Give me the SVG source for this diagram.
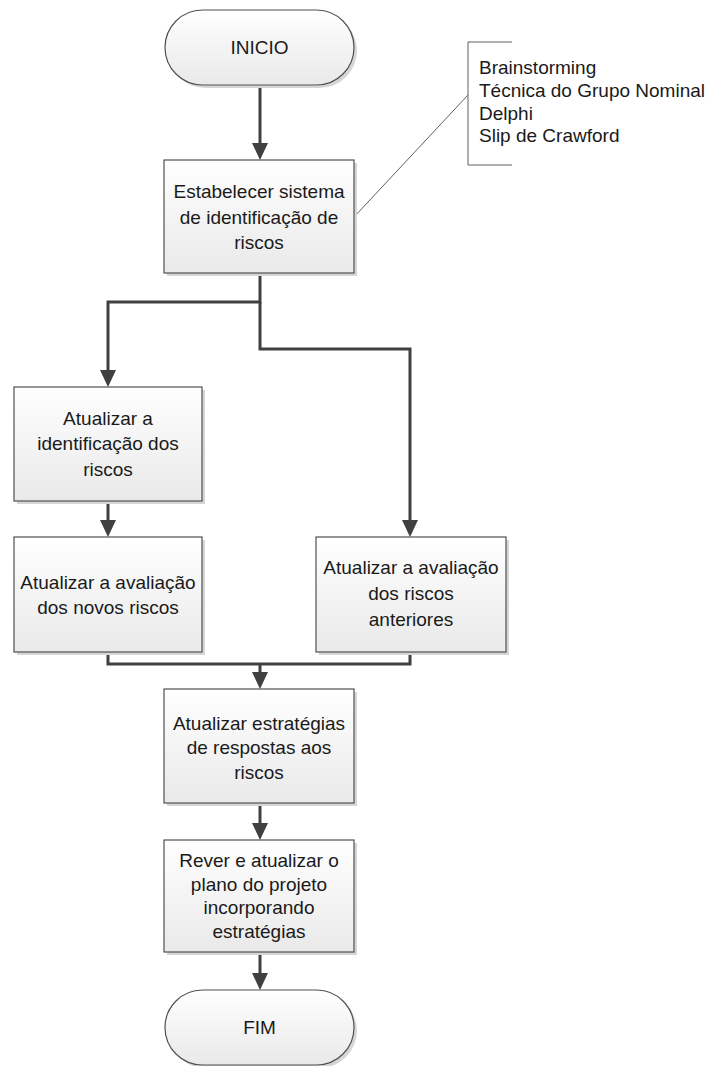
<svg xmlns="http://www.w3.org/2000/svg" width="711" height="1066" viewBox="0 0 711 1066">
  <style>
    .box { fill: url(#g); stroke: #505050; stroke-width: 1.2; }
    .shadow { fill: #d6d6d6; }
    .t { font-family: "Liberation Sans", Arial, sans-serif; font-size: 19px; fill: #1a1a1a; text-anchor: middle; }
    .ann { font-family: "Liberation Sans", Arial, sans-serif; font-size: 19px; fill: #1a1a1a; }
    .conn { fill: none; stroke: #404040; stroke-width: 3; }
    .thin { fill: none; stroke: #606060; stroke-width: 1; }
  </style>
  <defs>
    <linearGradient id="g" x1="0" y1="0" x2="0" y2="1">
      <stop offset="0" stop-color="#ffffff"/>
      <stop offset="1" stop-color="#e9e9e9"/>
    </linearGradient>
    <marker id="arr" viewBox="0 0 17 16" refX="7" refY="8" markerWidth="17" markerHeight="16" markerUnits="userSpaceOnUse" orient="auto">
      <path d="M0,0 L17,8 L0,16 z" fill="#404040"/>
    </marker>
  </defs>

  <g id="connectors">
    <path class="conn" d="M260,85 L260,150" marker-end="url(#arr)"/>
    <path class="conn" d="M260,273 L260,302 L108,302 L108,377" marker-end="url(#arr)"/>
    <path class="conn" d="M260,302 L260,349 L410,349 L410,527" marker-end="url(#arr)"/>
    <path class="conn" d="M108,501 L108,527" marker-end="url(#arr)"/>
    <path class="conn" d="M108,652 L108,664 L410,664 L410,652"/>
    <path class="conn" d="M260,664 L260,679" marker-end="url(#arr)"/>
    <path class="conn" d="M260,803 L260,830" marker-end="url(#arr)"/>
    <path class="conn" d="M260,952 L260,980" marker-end="url(#arr)"/>
    <path class="thin" d="M354,217 L468,95"/>
  </g>

  <g id="inicio">
    <rect class="shadow" x="168" y="13" width="189" height="75" rx="37.5" ry="37.5"/>
    <rect class="box" x="165" y="10" width="189" height="75" rx="37.5" ry="37.5"/>
    <text class="t" x="259.5" y="54">INICIO</text>
  </g>

  <g id="annotation">
    <path class="thin" d="M512,42 L468,42 L468,165 L512,165"/>
    <text class="ann" x="479" y="74">Brainstorming</text>
    <text class="ann" x="479" y="97">Técnica do Grupo Nominal</text>
    <text class="ann" x="479" y="120">Delphi</text>
    <text class="ann" x="479" y="142">Slip de Crawford</text>
  </g>

  <g id="estabelecer">
    <rect class="shadow" x="167" y="163" width="190" height="113"/>
    <rect class="box" x="164" y="160" width="190" height="113"/>
    <text class="t" x="259" y="198">Estabelecer sistema</text>
    <text class="t" x="259" y="224">de identificação de</text>
    <text class="t" x="259" y="249">riscos</text>
  </g>

  <g id="atualizar-identificacao">
    <rect class="shadow" x="17" y="390" width="188" height="114"/>
    <rect class="box" x="14" y="387" width="188" height="114"/>
    <text class="t" x="108" y="425">Atualizar a</text>
    <text class="t" x="108" y="450">identificação dos</text>
    <text class="t" x="108" y="476">riscos</text>
  </g>

  <g id="avaliacao-novos">
    <rect class="shadow" x="17" y="540" width="188" height="115"/>
    <rect class="box" x="14" y="537" width="188" height="115"/>
    <text class="t" x="108" y="589">Atualizar a avaliação</text>
    <text class="t" x="108" y="614">dos novos riscos</text>
  </g>

  <g id="avaliacao-anteriores">
    <rect class="shadow" x="319" y="540" width="190" height="115"/>
    <rect class="box" x="316" y="537" width="190" height="115"/>
    <text class="t" x="411" y="574">Atualizar a avaliação</text>
    <text class="t" x="411" y="600">dos riscos</text>
    <text class="t" x="411" y="626">anteriores</text>
  </g>

  <g id="estrategias">
    <rect class="shadow" x="167" y="692" width="190" height="114"/>
    <rect class="box" x="164" y="689" width="190" height="114"/>
    <text class="t" x="259" y="730">Atualizar estratégias</text>
    <text class="t" x="259" y="754">de respostas aos</text>
    <text class="t" x="259" y="779">riscos</text>
  </g>

  <g id="rever">
    <rect class="shadow" x="167" y="843" width="190" height="112"/>
    <rect class="box" x="164" y="840" width="190" height="112"/>
    <text class="t" x="259" y="867">Rever e atualizar o</text>
    <text class="t" x="259" y="891">plano do projeto</text>
    <text class="t" x="259" y="914">incorporando</text>
    <text class="t" x="259" y="938">estratégias</text>
  </g>

  <g id="fim">
    <rect class="shadow" x="168" y="993" width="189" height="75" rx="37.5" ry="37.5"/>
    <rect class="box" x="165" y="990" width="189" height="75" rx="37.5" ry="37.5"/>
    <text class="t" x="259.5" y="1034">FIM</text>
  </g>
</svg>
